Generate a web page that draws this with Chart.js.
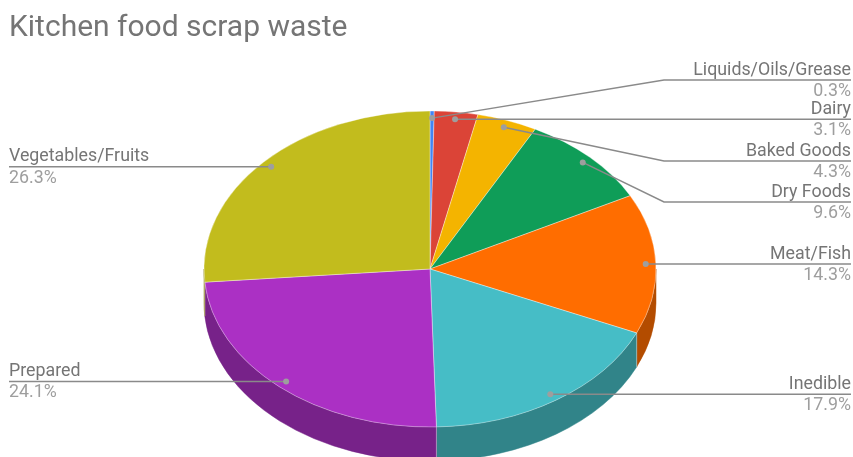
<!DOCTYPE html>
<html>
<head>
<meta charset="utf-8">
<style>html,body{margin:0;padding:0;background:#fff}#wrap{width:853px;height:457px;position:relative;overflow:hidden}#c{filter:blur(0.4px)}</style>
<script src="https://cdn.jsdelivr.net/npm/chart.js@4"></script>
</head>
<body>
<div id="wrap"><canvas id="c" width="853" height="457"></canvas></div>
<script>
const categories = ["Liquids/Oils/Grease","Dairy","Baked Goods","Dry Foods","Meat/Fish","Inedible","Prepared","Vegetables/Fruits"];
const shares = [0.3,3.1,4.3,9.6,14.3,17.9,24.1,26.3];
const topColors = ["#4285f4","#db4437","#f4b400","#0f9d58","#ff6d00","#46bdc6","#ab30c4","#c2bc1d"];
const sideColors = ["#2e5dab","#992f27","#ab7e00","#0a6e3e","#b34c00","#318489","#772289","#888314"];

// tilted-pie layout
const pieView = {cx:430, cy:269, rx:226, ry:158, depth:34};
const calloutLines = [80,120,161,202,264,394,380,167];
const calloutSide = ["r","r","r","r","r","r","l","l"];
const elbowX = 664, rightEdge = 851, leftEdge = 9;

function viewTransform(ctx, arc){
  const sx = pieView.rx/arc.outerRadius, sy = pieView.ry/arc.outerRadius;
  ctx.translate(pieView.cx, pieView.cy);
  ctx.scale(sx, sy);
  ctx.translate(-arc.x, -arc.y);
}
function pointOnRim(angle, frac){
  return {x: pieView.cx + pieView.rx*frac*Math.cos(angle), y: pieView.cy + pieView.ry*frac*Math.sin(angle)};
}

const tiltedPie = {
  id:'tiltedPie',
  beforeDatasetsDraw(chart){
    const ctx = chart.ctx, arcs = chart.getDatasetMeta(0).data;
    const {cx,cy,rx,ry,depth} = pieView;
    // side walls: the part of each slice's rim that faces the viewer
    arcs.forEach((arc,i)=>{
      const a = Math.max(arc.startAngle, 0), b = Math.min(arc.endAngle, Math.PI);
      if(b <= a) return;
      ctx.beginPath();
      ctx.ellipse(cx,cy,rx,ry,0,a,b);
      ctx.ellipse(cx,cy+depth,rx,ry,0,b,a,true);
      ctx.closePath();
      ctx.fillStyle = sideColors[i];
      ctx.fill();
      ctx.strokeStyle = sideColors[i];
      ctx.lineWidth = 0.5;
      ctx.stroke();
    });
    ctx.save();
    viewTransform(ctx, arcs[0]);
  },
  afterDatasetsDraw(chart){
    const ctx = chart.ctx;
    ctx.restore();
    const arcs = chart.getDatasetMeta(0).data;
    // seams between side walls
    ctx.save();
    ctx.strokeStyle = 'rgba(255,255,255,0.4)';
    ctx.lineWidth = 1;
    arcs.forEach(arc=>{
      const p = pointOnRim(arc.endAngle, 1);
      if(Math.sin(arc.endAngle) > 0){
        ctx.beginPath();
        ctx.moveTo(p.x, p.y);
        ctx.lineTo(p.x, p.y + pieView.depth);
        ctx.stroke();
      }
    });
    ctx.restore();
  },
  afterDraw(chart){
    const ctx = chart.ctx, arcs = chart.getDatasetMeta(0).data;
    ctx.save();
    arcs.forEach((arc,i)=>{
      const mid = (arc.startAngle + arc.endAngle)/2;
      const p = pointOnRim(mid, 0.955);
      const right = calloutSide[i]==='r';
      const edge = right ? rightEdge : leftEdge;
      let ly = calloutLines[i];
      const straight = Math.abs(ly-p.y) < 3;
      if(straight) ly = p.y;
      ctx.strokeStyle = '#8a8a8a';
      ctx.lineWidth = 1.5;
      ctx.beginPath();
      ctx.moveTo(p.x,p.y);
      if(!straight) ctx.lineTo(elbowX, ly);
      ctx.lineTo(edge, ly);
      ctx.stroke();
      ctx.fillStyle = '#9e9e9e';
      ctx.beginPath();
      ctx.arc(p.x,p.y,3,0,Math.PI*2);
      ctx.fill();
      ctx.textAlign = right ? 'right' : 'left';
      ctx.textBaseline = 'alphabetic';
      ctx.font = '17.8px Roboto';
      ctx.fillStyle = '#757575';
      ctx.fillText(categories[i], edge, ly-5.5);
      ctx.fillStyle = '#9e9e9e';
      ctx.fillText(shares[i].toFixed(1)+'%', edge, ly+16);
    });
    ctx.restore();
  }
};

new Chart(document.getElementById('c'),{
  type:'pie',
  data:{labels:categories,datasets:[{data:shares,backgroundColor:topColors,borderColor:'rgba(255,255,255,0.55)',borderWidth:0.7,clip:false}]},
  options:{
    responsive:false,
    animation:false,
    devicePixelRatio:1,
    layout:{padding:{left:9,right:2,top:10,bottom:2}},
    plugins:{
      legend:{display:false},
      tooltip:{enabled:false},
      title:{display:true,text:'Kitchen food scrap waste',align:'start',color:'#757575',
        font:{family:'Roboto',size:30,weight:'normal'},padding:{top:0,bottom:4}}
    }
  },
  plugins:[tiltedPie]
});
</script>
</body>
</html>
